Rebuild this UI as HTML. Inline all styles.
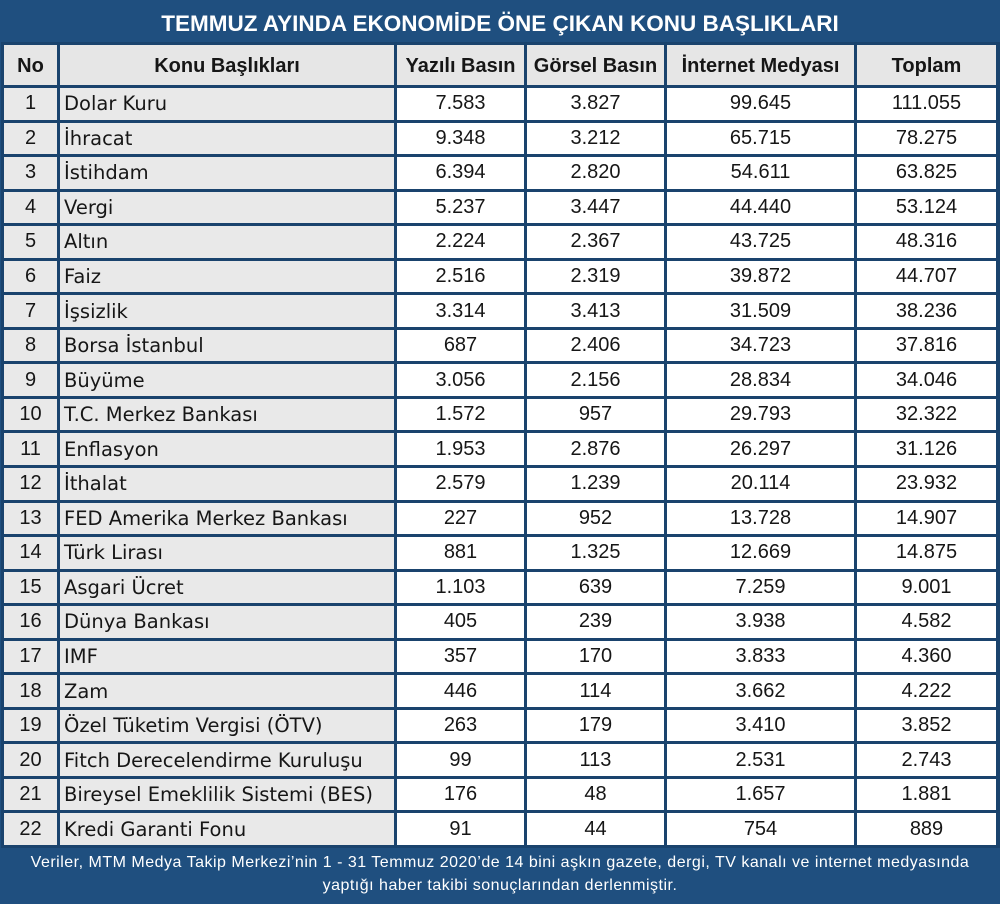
<!DOCTYPE html>
<html>
<head>
<meta charset="utf-8">
<style>
html,body{margin:0;padding:0;}
body{width:1000px;height:904px;position:relative;background:#1f4f7f;overflow:hidden;}
.title{position:absolute;left:0;top:0;width:1000px;height:42px;line-height:48px;text-align:center;color:#fff;font-family:"Liberation Sans",sans-serif;font-weight:bold;font-size:22.5px;}
.grid{position:absolute;left:1px;top:42px;width:993px;padding:3px 3px 3px 3px;background:#1a436d;display:grid;grid-template-columns:53px 334px 127px 137px 187px 139px;grid-template-rows:40px repeat(22,31.55px);gap:3px;}
.grid div{display:flex;align-items:center;justify-content:center;color:#161616;font-family:"Liberation Sans",sans-serif;font-size:20px;background:#fff;white-space:nowrap;overflow:hidden;}
.grid div.h{background:#e6e6e6;font-weight:bold;font-size:20px;padding-top:2px;}
.grid div.n{background:#e9e9e9;}
.grid div.l{background:#e9e9e9;justify-content:flex-start;padding-left:4px;font-family:"DejaVu Sans",sans-serif;font-size:19.5px;}
.foot{position:absolute;left:0;top:848px;width:1000px;text-align:center;color:#fff;font-family:"Liberation Sans",sans-serif;font-size:16px;letter-spacing:0.5px;line-height:23px;padding-top:3px;}
</style>
</head>
<body>
<div class="title">TEMMUZ AYINDA EKONOMİDE ÖNE ÇIKAN KONU BAŞLIKLARI</div>
<div class="grid">
<div class="h">No</div><div class="h">Konu Başlıkları</div><div class="h">Yazılı Basın</div><div class="h">Görsel Basın</div><div class="h">İnternet Medyası</div><div class="h">Toplam</div>
<div class="n">1</div><div class="l">Dolar Kuru</div><div>7.583</div><div>3.827</div><div>99.645</div><div>111.055</div>
<div class="n">2</div><div class="l">İhracat</div><div>9.348</div><div>3.212</div><div>65.715</div><div>78.275</div>
<div class="n">3</div><div class="l">İstihdam</div><div>6.394</div><div>2.820</div><div>54.611</div><div>63.825</div>
<div class="n">4</div><div class="l">Vergi</div><div>5.237</div><div>3.447</div><div>44.440</div><div>53.124</div>
<div class="n">5</div><div class="l">Altın</div><div>2.224</div><div>2.367</div><div>43.725</div><div>48.316</div>
<div class="n">6</div><div class="l">Faiz</div><div>2.516</div><div>2.319</div><div>39.872</div><div>44.707</div>
<div class="n">7</div><div class="l">İşsizlik</div><div>3.314</div><div>3.413</div><div>31.509</div><div>38.236</div>
<div class="n">8</div><div class="l">Borsa İstanbul</div><div>687</div><div>2.406</div><div>34.723</div><div>37.816</div>
<div class="n">9</div><div class="l">Büyüme</div><div>3.056</div><div>2.156</div><div>28.834</div><div>34.046</div>
<div class="n">10</div><div class="l">T.C. Merkez Bankası</div><div>1.572</div><div>957</div><div>29.793</div><div>32.322</div>
<div class="n">11</div><div class="l">Enflasyon</div><div>1.953</div><div>2.876</div><div>26.297</div><div>31.126</div>
<div class="n">12</div><div class="l">İthalat</div><div>2.579</div><div>1.239</div><div>20.114</div><div>23.932</div>
<div class="n">13</div><div class="l">FED Amerika Merkez Bankası</div><div>227</div><div>952</div><div>13.728</div><div>14.907</div>
<div class="n">14</div><div class="l">Türk Lirası</div><div>881</div><div>1.325</div><div>12.669</div><div>14.875</div>
<div class="n">15</div><div class="l">Asgari Ücret</div><div>1.103</div><div>639</div><div>7.259</div><div>9.001</div>
<div class="n">16</div><div class="l">Dünya Bankası</div><div>405</div><div>239</div><div>3.938</div><div>4.582</div>
<div class="n">17</div><div class="l">IMF</div><div>357</div><div>170</div><div>3.833</div><div>4.360</div>
<div class="n">18</div><div class="l">Zam</div><div>446</div><div>114</div><div>3.662</div><div>4.222</div>
<div class="n">19</div><div class="l">Özel Tüketim Vergisi (ÖTV)</div><div>263</div><div>179</div><div>3.410</div><div>3.852</div>
<div class="n">20</div><div class="l">Fitch Derecelendirme Kuruluşu</div><div>99</div><div>113</div><div>2.531</div><div>2.743</div>
<div class="n">21</div><div class="l">Bireysel Emeklilik Sistemi (BES)</div><div>176</div><div>48</div><div>1.657</div><div>1.881</div>
<div class="n">22</div><div class="l">Kredi Garanti Fonu</div><div>91</div><div>44</div><div>754</div><div>889</div>
</div>
<div class="foot">Veriler, MTM Medya Takip Merkezi’nin 1 - 31 Temmuz 2020’de 14 bini aşkın gazete, dergi, TV kanalı ve internet medyasında<br>yaptığı haber takibi sonuçlarından derlenmiştir.</div>
</body>
</html>
